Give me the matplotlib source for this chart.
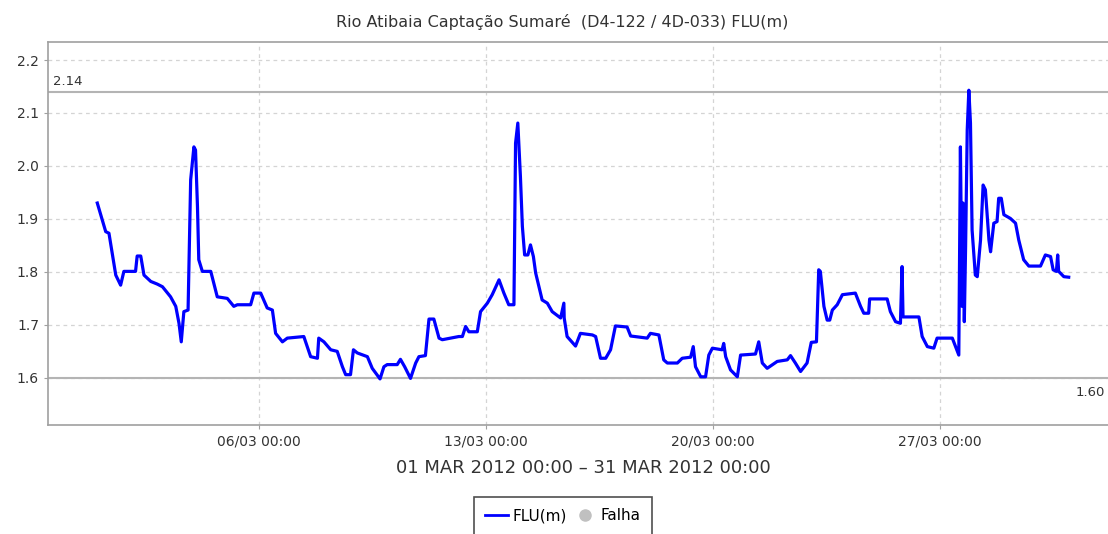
import datetime as dt
import matplotlib

matplotlib.use("Agg")
import matplotlib.pyplot as plt
import matplotlib.dates as mdates
from matplotlib.lines import Line2D

plt.rcParams.update({"font.family": "DejaVu Sans"})

# dias desde 01/03/2012 00:00 e nível FLU(m)
days = [0.02, 0.28, 0.38, 0.59, 0.74, 0.84, 1.20, 1.25, 1.36, 1.46, 1.67, 1.87, 2.03, 2.28,
        2.44, 2.54, 2.61, 2.69, 2.82, 2.90, 3.00, 3.05, 3.11, 3.15, 3.26, 3.52, 3.72, 4.03,
        4.23, 4.34, 4.75, 4.85, 5.06, 5.26, 5.42, 5.52, 5.73, 5.88, 6.39, 6.60, 6.81, 6.85,
        7.01, 7.22, 7.42, 7.58, 7.68, 7.83, 7.92, 8.04, 8.35, 8.50, 8.74, 8.86, 8.96, 9.27,
        9.37, 9.50, 9.68, 9.84, 9.94, 10.14, 10.25, 10.40, 10.56, 10.66, 11.17, 11.28, 11.38,
        11.48, 11.74, 11.84, 12.05, 12.20, 12.41, 12.56, 12.71, 12.87, 12.92, 12.99, 13.07,
        13.13, 13.20, 13.30, 13.38, 13.47, 13.54, 13.74, 13.90, 14.05, 14.31, 14.41, 14.42,
        14.51, 14.77, 14.92, 15.29, 15.39, 15.54, 15.70, 15.85, 16.00, 16.36, 16.47, 16.98,
        17.08, 17.34, 17.49, 17.60, 17.91, 18.06, 18.32, 18.40, 18.47, 18.63, 18.78, 18.88,
        18.99, 19.29, 19.34, 19.40, 19.55, 19.76, 19.86, 20.32, 20.42, 20.53, 20.68, 20.99,
        21.30, 21.40, 21.55, 21.71, 21.91, 22.04, 22.20, 22.27, 22.32, 22.43, 22.53, 22.61,
        22.69, 22.84, 23.00, 23.40, 23.56, 23.66, 23.81, 23.84, 24.38, 24.48, 24.64, 24.79,
        24.84, 24.87, 25.36, 25.46, 25.62, 25.82, 25.92, 26.39, 26.49, 26.59, 26.64, 26.69,
        26.72, 26.76, 26.80, 26.85, 26.90, 26.95, 27.00, 27.10, 27.16, 27.26, 27.34, 27.41,
        27.52, 27.57, 27.67, 27.77, 27.82, 27.90, 27.98, 28.18, 28.34, 28.44, 28.59, 28.75,
        29.11, 29.26, 29.42, 29.50, 29.60, 29.64, 29.67, 29.83, 29.98]
level = [1.930, 1.876, 1.873, 1.794, 1.775, 1.801, 1.801, 1.830, 1.830, 1.794, 1.782, 1.777,
         1.772, 1.753, 1.735, 1.703, 1.668, 1.725, 1.728, 1.974, 2.036, 2.030, 1.923, 1.823,
         1.801, 1.801, 1.753, 1.750, 1.735, 1.738, 1.738, 1.760, 1.760, 1.732, 1.728, 1.684,
         1.668, 1.675, 1.678, 1.640, 1.637, 1.675, 1.668, 1.653, 1.650, 1.621, 1.606, 1.606,
         1.653, 1.647, 1.640, 1.618, 1.598, 1.621, 1.625, 1.625, 1.635, 1.621, 1.599, 1.628,
         1.640, 1.642, 1.711, 1.711, 1.675, 1.672, 1.678, 1.678, 1.697, 1.687, 1.687, 1.725,
         1.741, 1.757, 1.785, 1.760, 1.738, 1.738, 2.043, 2.081, 1.980, 1.886, 1.832, 1.832,
         1.851, 1.829, 1.798, 1.747, 1.741, 1.725, 1.713, 1.741, 1.713, 1.678, 1.660, 1.684,
         1.681, 1.678, 1.637, 1.637, 1.653, 1.698, 1.696, 1.679, 1.675, 1.684, 1.681, 1.634,
         1.628, 1.628, 1.637, 1.639, 1.659, 1.621, 1.602, 1.602, 1.643, 1.656, 1.653, 1.665,
         1.640, 1.615, 1.602, 1.643, 1.645, 1.668, 1.628, 1.618, 1.631, 1.634, 1.642, 1.628,
         1.612, 1.628, 1.667, 1.668, 1.804, 1.801, 1.735, 1.709, 1.709, 1.728, 1.738, 1.757,
         1.760, 1.735, 1.722, 1.722, 1.749, 1.749, 1.725, 1.706, 1.703, 1.810, 1.715, 1.715,
         1.678, 1.659, 1.656, 1.675, 1.675, 1.659, 1.643, 2.036, 1.735, 1.930, 1.706, 1.848,
         2.068, 2.143, 2.081, 1.879, 1.794, 1.791, 1.860, 1.964, 1.955, 1.860, 1.838, 1.892,
         1.895, 1.939, 1.939, 1.908, 1.901, 1.892, 1.860, 1.823, 1.811, 1.811, 1.832, 1.829,
         1.804, 1.801, 1.832, 1.801, 1.791, 1.790]
max_level = 2.14
min_level = 1.60
yticks = [1.6, 1.7, 1.8, 1.9, 2.0, 2.1, 2.2]

start = dt.datetime(2012, 3, 1)
times = [start + dt.timedelta(days=d) for d in days]

fig = plt.figure(figsize=(11.08, 5.34), dpi=100)
ax = fig.add_axes([48 / 1108, 109 / 534, 1070 / 1108, 383 / 534])

ax.plot(times, level, color="#0000ff", lw=2.3, solid_joinstyle="round", zorder=3)
ax.axhline(max_level, color="#b4b4b4", lw=1.5, zorder=2)
ax.axhline(min_level, color="#b4b4b4", lw=1.5, zorder=2)

ax.set_xlim(dt.datetime(2012, 2, 28, 12), dt.datetime(2012, 4, 1, 12))
ax.set_ylim(1.511, 2.234)
ax.set_yticks(yticks)
ax.yaxis.set_major_formatter(matplotlib.ticker.FormatStrFormatter("%.1f"))
ax.xaxis.set_major_locator(mdates.DayLocator(bymonthday=[6, 13, 20, 27]))
ax.xaxis.set_major_formatter(mdates.DateFormatter("%d/%m %H:%M"))

ax.grid(True, color="#d4d4d4", ls=(0, (3, 3)), lw=0.9)
for s in ["left", "bottom", "top"]:
    ax.spines[s].set_color("#a0a0a0")
    ax.spines[s].set_linewidth(1.2)
ax.spines["right"].set_visible(False)
ax.tick_params(length=3, color="#a0a0a0", labelsize=10, labelcolor="#333333")

ax.text(0.005, max_level + 0.008, "2.14", transform=ax.get_yaxis_transform(),
        fontsize=9.5, color="#333333", va="bottom", ha="left")
# rótulo do mínimo, junto à borda direita da figura
fig.text(1 - 3 / 1108, 1 - 386 / 534, "1.60", fontsize=9.5, color="#333333",
         va="top", ha="right")

fig.text(0.507, 1 - 22 / 534, "Rio Atibaia Captação Sumaré  (D4-122 / 4D-033) FLU(m)",
         ha="center", va="center", fontsize=11.5, color="#333333")
fig.text(583 / 1108, 1 - 468 / 534, "01 MAR 2012 00:00 – 31 MAR 2012 00:00",
         ha="center", va="center", fontsize=13, color="#333333")

handles = [Line2D([], [], color="#0000ff", lw=2),
           Line2D([], [], ls="none", marker="o", color="#c0c0c0", markersize=8)]
leg = fig.legend(handles, ["FLU(m)", "Falha"], loc="upper center",
                 bbox_to_anchor=(563 / 1108, 1 - 497 / 534), ncol=2, fontsize=11,
                 frameon=True, fancybox=False, handlelength=1.5, handletextpad=0.3,
                 columnspacing=0.4, borderpad=0.75, borderaxespad=0)
leg.get_frame().set_edgecolor("#222222")
leg.get_frame().set_linewidth(1.2)

fig.savefig("out.png", dpi=100)
